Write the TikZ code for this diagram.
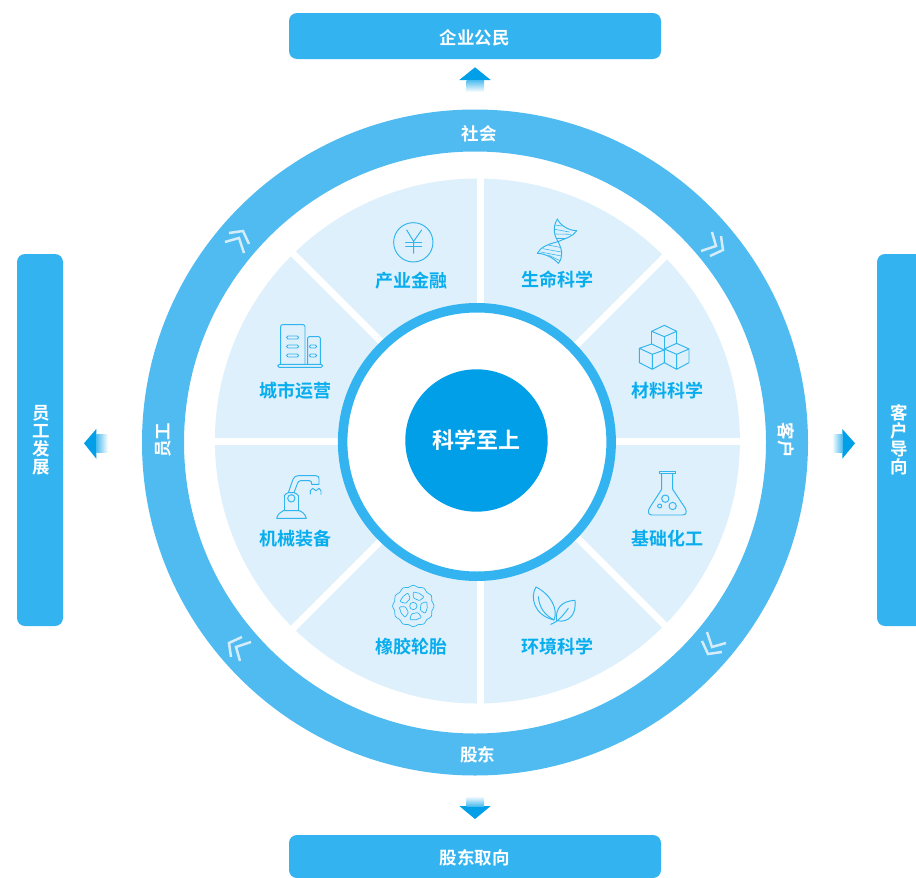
\documentclass[tikz,border=0pt]{standalone}
\usepackage{fontspec}
\setmainfont{Noto Sans CJK SC}[BoldFont={Noto Sans CJK SC Bold}]
\definecolor{ringblue}{HTML}{4FBBF0}
\definecolor{boxblue}{HTML}{33B3EF}
\definecolor{hubblue}{HTML}{009FE8}
\definecolor{paleblue}{HTML}{DEF0FB}
\definecolor{labelblue}{HTML}{08ADEE}
\definecolor{iconblue}{HTML}{30B4EE}
\definecolor{chevwhite}{HTML}{D5ECFB}
\tikzset{
  disc/.style={circle,inner sep=0pt,outer sep=0pt},
  panel/.style={fill=boxblue,rounded corners=8pt},
  secttext/.style={text=labelblue,font=\bfseries\fontsize{18}{18}\selectfont},
  whitetext/.style={text=white,font=\bfseries\fontsize{17.5}{18}\selectfont,align=center},
  gapline/.style={draw=white,line width=7pt},
  icon/.style={draw=iconblue,line width=.95pt,line join=round,line cap=round,x=.3333pt,y=-.3333pt},
  chevron/.style={draw=chevwhite,line width=2.5pt}
}
\begin{document}
\begin{tikzpicture}[x=1pt,y=-1pt]
    \useasboundingbox (0,0) rectangle (916,878);
    \clip (0,0) rectangle (916,878);

    \node(social) at (475,442.5) [disc,draw=ringblue,line width=42pt,minimum size=624pt] {};
    \node(petals) at (477.4,441) [disc,fill=paleblue,minimum size=525pt] {};

    \coordinate(gap) at (480.5,441);
    \foreach \a in {0,45,...,315} {
      \path (gap) ++(\a:272) coordinate(g\a);
      \draw[gapline] (gap) -- (g\a);
    }

    \node(corering) at (476.9,442) [disc,fill=white,draw=boxblue,line width=9.5pt,minimum size=268.5pt] {};
    \node(hub) at (476.5,440.5) [disc,fill=hubblue,minimum size=142.4pt,text=white,font=\bfseries\fontsize{22}{22}\selectfont] {科学至上};

    \fill[panel] (289,13) rectangle (661,59);
    \fill[panel] (289,835) rectangle (661,878);
    \fill[panel] (17,254) rectangle (63,626);
    \fill[panel] (877,254) rectangle (935,626);

    \node(citizen) at (474.5,38) [whitetext] {企业公民};
    \node(holder) at (474.5,858) [whitetext] {股东取向};
    \node(staff) at (41,440) [whitetext] {员\\工\\发\\展};
    \node(client) at (899,440) [whitetext] {客\\户\\导\\向};

    \node(ringtop) at (479,134) [whitetext] {社会};
    \node(ringbot) at (477.5,755) [whitetext] {股东};
    \node(ringleft) at (163,440) [whitetext,rotate=90] {员工};
    \node(ringright) at (786,440) [whitetext,rotate=-90] {客户};

    \fill[hubblue] (475,67.3) -- (490.7,80) -- (459.3,80) -- cycle;
    \shade[top color=hubblue!70!white,bottom color=white] (466.7,80) rectangle (484,92);
    \fill[hubblue] (475,819) -- (490.7,806) -- (459.3,806) -- cycle;
    \shade[bottom color=hubblue!70!white,top color=white] (466.7,796) rectangle (484,806);
    \fill[hubblue] (84,443.3) -- (96.3,429) -- (96.3,458.7) -- cycle;
    \shade[left color=hubblue!70!white,right color=white] (96.3,434) rectangle (108,452);
    \fill[hubblue] (855,443.3) -- (842.3,429) -- (842.3,458.7) -- cycle;
    \shade[right color=hubblue!70!white,left color=white] (832,434) rectangle (842.3,452);

    \foreach \px/\py/\r in {237/241/0,713/244/-90,714/644/-180,239/649/-270} {
      \draw[chevron,shift={(\px,\py)},rotate=\r] (-8,-8) -- (6,-10) -- (12,3);
      \draw[chevron,shift={(\px,\py)},rotate=\r] (-12,1) -- (2,-3) -- (7,12);
    }

    \node(life) at (557.3,280) [secttext] {生命科学};
    \node(material) at (667,391) [secttext] {材料科学};
    \node(chem) at (667,539) [secttext] {基础化工};
    \node(green) at (557,647) [secttext] {环境科学};
    \node(finance) at (411,281) [secttext] {产业金融};
    \node(city) at (295,391) [secttext] {城市运营};
    \node(robot) at (295,539) [secttext] {机械装备};
    \node(rubber) at (411,647) [secttext] {橡胶轮胎};

    \begin{scope}[shift={(480,170)},icon]
      \draw (232,147) .. controls (215,175) and (225,200) .. (234,215) .. controls (247,238) and (250,262) .. (235,280);
      \draw (290,182) .. controls (280,200) and (255,205) .. (234,215) .. controls (205,222) and (180,232) .. (172,250);
      \draw (232,147) .. controls (240,165) and (265,182) .. (290,182);
      \draw (172,250) .. controls (195,250) and (222,265) .. (235,280);
      \foreach \sx/\sy/\tx/\ty in {225/165/247/168,224/178/268/186,227/192/272/193,232/205/258/205,
                                   204/225/240/232,188/236/243/246,182/246/244/258,205/255/240/272} {
        \draw[line width=.55pt] (\sx,\sy) -- (\tx,\ty);
      }
      \draw (553,466) -- (590,484) -- (553,500) -- (515,484) -- cycle;
      \draw (515,484) -- (515,522) (553,500) -- (553,540) (590,484) -- (590,522);
      \draw (515,522) -- (553,540) -- (517,553) -- (478,535) -- cycle;
      \draw (478,535) -- (478,578) -- (517,598) -- (553,578) -- (553,540) (517,553) -- (517,598);
      \draw (590,520) -- (627,537) -- (590,553) -- (553,537) -- cycle;
      \draw (627,537) -- (627,578) -- (590,598) -- (553,578) (590,553) -- (590,598);
    \end{scope}

    \begin{scope}[shift={(480,440)},icon]
      \draw (538,95) -- (585,95) -- (585,101) -- (538,101) -- cycle;
      \draw (545,101) -- (545,148) -- (508,205) .. controls (502,216) and (506,225) .. (516,225)
        -- (608,225) .. controls (618,225) and (622,216) .. (616,205) -- (578,148) -- (578,101);
      \draw (556,176) circle[radius=11];
      \draw (578,198) circle[radius=11];
      \draw (539,198) circle[radius=6];
      \draw (168,441) .. controls (150,470) and (160,525) .. (222,540)
        .. controls (235,510) and (215,465) .. (168,441);
      \draw (175,470) .. controls (178,505) and (195,525) .. (222,540);
      \draw (285,481) .. controls (245,483) and (225,505) .. (230,542)
        .. controls (265,550) and (290,525) .. (285,481);
      \draw (212,553) .. controls (235,545) and (250,525) .. (265,505);
    \end{scope}

    \begin{scope}[shift={(210,170)},icon]
      \draw (610,217) circle[radius=59];
      \draw (590,180) -- (611,214) -- (635,180) (611,214) -- (611,250);
      \draw (587,218) -- (635,218) (587,230) -- (635,230);
      \draw[rounded corners=2pt] (212,583) -- (212,464) -- (285,464) -- (285,583);
      \draw[rounded corners=1.5pt] (293,583) -- (293,500) -- (331,500) -- (331,583);
      \draw[rounded corners=1.5pt] (203,583) rectangle (338,592);
      \foreach \wy in {498,525,552} {
        \draw[rounded corners=1.4pt] (230,\wy) rectangle (266,\wy+9);
      }
      \foreach \wy in {525,552} {
        \draw[rounded corners=1.4pt] (298,\wy) rectangle (320,\wy+9);
      }
    \end{scope}

    \begin{scope}[shift={(210,440)},icon]
      \draw (200,235) -- (289,235) .. controls (285,220) and (275,215) .. (268,212) -- (220,212) .. controls (212,216) and (203,222) .. (200,235) -- cycle;
      \draw (222,212) -- (222,168) (266,212) -- (266,168);
      \draw (222,168) .. controls (226,162) and (230,160) .. (235,158) -- (252,158) .. controls (258,160) and (263,163) .. (266,168);
      \draw (244,175) circle[radius=11];
      \draw (235,158) -- (249,118) .. controls (252,110) and (258,107) .. (265,107) -- (318,107)
        .. controls (324,107) and (327,111) .. (327,116) -- (327,133) -- (305,133)
        .. controls (305,126) and (304,122) .. (298,122) -- (272,122) .. controls (266,122) and (264,126) .. (262,131) -- (252,158);
      \draw (301,162) -- (301,152) -- (308,145) -- (318,152) -- (327,145) -- (333,152) -- (333,163);
      \draw[line width=.7pt] plot[smooth cycle,samples=48,domain=0:352.5] ({610+(60+2.5*cos(12*\x))*cos(\x)},{498+(60+2.5*cos(12*\x))*sin(\x)});
      \draw[line width=.7pt] (610,498) circle[radius=11];
      \foreach \a in {-25,47,119,191,263} {
        \draw[line width=.7pt,rounded corners=1pt,rotate around={\a:(610,498)}]
          (600,476) -- (620,476) -- (628,460) .. controls (615,455) and (605,455) .. (592,460) -- cycle;
      }
    \end{scope}
\end{tikzpicture}
\end{document}
